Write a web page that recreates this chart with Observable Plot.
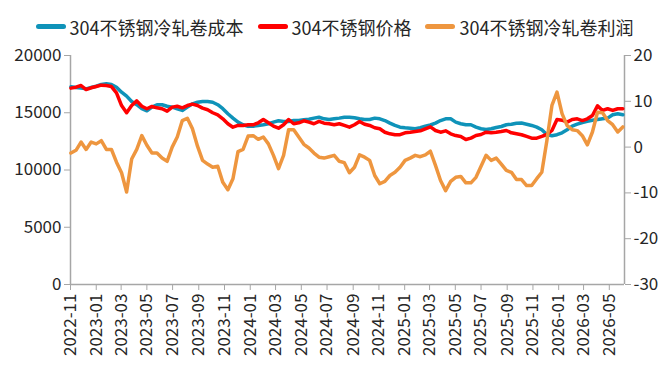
<!DOCTYPE html>
<html><head><meta charset="utf-8">
<script src="https://cdn.jsdelivr.net/npm/d3@7"></script>
<script src="https://cdn.jsdelivr.net/npm/@observablehq/plot@0.6"></script>
<style>
body{margin:0;background:#fff;font-family:"Noto Sans CJK SC","Noto Sans",sans-serif;}
#legend{width:669px;height:40px;display:flex;justify-content:center;align-items:center;padding-top:13px;box-sizing:border-box;font-size:18px;color:#262626;}
.item{display:flex;align-items:center;margin:0 7px;white-space:nowrap;}
.sw{width:30px;height:5px;border-radius:3px;margin-right:4px;}
#chart svg{overflow:visible;display:block;}
</style></head><body>
<div id="legend"></div>
<div id="chart"></div>
<script>
const seriesNames = ["304不锈钢冷轧卷成本","304不锈钢价格","304不锈钢冷轧卷利润"];
const seriesColors = ["#0F93B9","#FF0000","#EE963F"];
const leftTicks = [0,5000,10000,15000,20000];
const rightTicks = [-30,-20,-10,0,10,20];
const xTickLabels = ["2022-11","2023-01","2023-03","2023-05","2023-07","2023-09","2023-11","2024-01","2024-03","2024-05","2024-07","2024-09","2024-11","2025-01","2025-03","2025-05","2025-07","2025-09","2025-11","2026-01","2026-03","2026-05"];
const xDomain = ["2022-11-01","2026-06-06"];

const dates = [
"2022-11-02","2022-11-14","2022-11-26","2022-12-08","2022-12-20",
"2023-01-01","2023-01-13","2023-01-25","2023-02-06","2023-02-18",
"2023-03-02","2023-03-14","2023-03-26","2023-04-07","2023-04-19",
"2023-05-01","2023-05-13","2023-05-25","2023-06-06","2023-06-18",
"2023-06-30","2023-07-12","2023-07-24","2023-08-05","2023-08-17",
"2023-08-29","2023-09-10","2023-09-22","2023-10-04","2023-10-16",
"2023-10-28","2023-11-09","2023-11-21","2023-12-03","2023-12-15",
"2023-12-27","2024-01-08","2024-01-20","2024-02-01","2024-02-13",
"2024-02-25","2024-03-08","2024-03-20","2024-04-01","2024-04-13",
"2024-04-25","2024-05-07","2024-05-19","2024-05-31","2024-06-12",
"2024-06-24","2024-07-06","2024-07-18","2024-07-30","2024-08-11",
"2024-08-23","2024-09-04","2024-09-16","2024-09-28","2024-10-10",
"2024-10-22","2024-11-03","2024-11-15","2024-11-27","2024-12-09",
"2024-12-21","2025-01-02","2025-01-14","2025-01-26","2025-02-07",
"2025-02-19","2025-03-03","2025-03-15","2025-03-27","2025-04-08",
"2025-04-20","2025-05-02","2025-05-14","2025-05-26","2025-06-07",
"2025-06-19","2025-07-01","2025-07-13","2025-07-25","2025-08-06",
"2025-08-18","2025-08-30","2025-09-11","2025-09-23","2025-10-05",
"2025-10-17","2025-10-29","2025-11-10","2025-11-22","2025-12-04",
"2025-12-16","2025-12-28","2026-01-09","2026-01-21","2026-02-02",
"2026-02-14","2026-02-26","2026-03-10","2026-03-22","2026-04-03",
"2026-04-15","2026-04-27","2026-05-09","2026-05-21","2026-06-02"];

const cost = [
17270,17210,17150,17090,17210,
17320,17470,17530,17470,17230,
16800,16450,15980,15700,15350,
15170,15490,15700,15700,15570,
15490,15350,15200,15490,15780,
15920,15980,15980,15920,15700,
15350,14910,14530,14180,13950,
13810,13830,13890,13950,14040,
14180,14300,14240,14240,14320,
14320,14390,14440,14530,14610,
14470,14410,14470,14530,14610,
14610,14560,14470,14410,14410,
14530,14470,14320,14090,13890,
13740,13690,13650,13600,13690,
13830,13930,14090,14320,14470,
14470,14180,14040,13950,13950,
13740,13600,13540,13600,13710,
13800,13950,14000,14090,14100,
14000,13890,13740,13510,13100,
12990,13080,13250,13510,13830,
14000,14150,14260,14350,14410,
14470,14530,14820,14910,14820];

const price = [
17150,17230,17380,17030,17180,
17290,17410,17380,17290,16740,
15630,15000,15630,16040,15570,
15350,15550,15430,15350,15140,
15490,15570,15430,15630,15750,
15630,15400,15260,15000,14820,
14470,14040,13740,13890,13890,
13950,13950,14120,14410,14120,
13830,13650,13950,14410,14040,
14120,14300,14180,14040,14240,
14090,14040,13950,14040,13890,
13740,13950,14240,14000,13890,
13690,13600,13300,13160,13080,
13080,13250,13300,13360,13420,
13600,13770,13450,13300,13420,
13160,13010,12930,12660,12780,
13010,13100,13300,13250,13300,
13360,13450,13250,13160,13080,
12930,12780,12780,12930,13100,
13450,14410,14350,14180,14410,
14470,14320,14470,14760,15600,
15200,15350,15200,15350,15350];

const profit = [
-1.3,-0.7,1.1,-0.5,1.1,
0.7,1.4,-0.5,-0.5,-3.3,
-5.6,-9.8,-2.6,-0.5,2.5,
0.4,-1.3,-1.3,-2.4,-3.1,
0.0,2.2,5.8,6.3,4.0,
0.2,-2.9,-3.7,-4.4,-4.2,
-7.7,-9.3,-6.9,-1.0,-0.5,
2.4,2.5,1.7,2.2,0.7,
-1.8,-4.7,-1.8,3.8,3.8,
2.2,0.6,-0.2,-1.3,-2.2,
-2.4,-2.1,-1.8,-3.1,-3.4,
-5.6,-4.4,-1.7,-2.2,-2.9,
-6.2,-8.0,-7.5,-6.2,-5.5,
-4.4,-2.9,-2.4,-1.8,-2.1,
-1.7,-0.9,-4.0,-7.3,-9.5,
-7.5,-6.6,-6.4,-7.8,-7.8,
-6.6,-4.2,-1.8,-2.9,-2.4,
-3.7,-5.1,-5.5,-7.1,-7.1,
-8.4,-8.4,-6.9,-5.5,1.4,
9.1,12.0,7.3,4.7,3.8,
3.6,2.5,0.5,3.3,7.6,
7.5,5.8,4.9,3.3,4.4];

// legend
const legend = document.getElementById("legend");
seriesNames.forEach((n,i)=>{
  const it = document.createElement("div"); it.className="item";
  const sw = document.createElement("div"); sw.className="sw"; sw.style.background=seriesColors[i];
  const tx = document.createElement("span"); tx.textContent=n;
  it.appendChild(sw); it.appendChild(tx); legend.appendChild(it);
});

const pd = d3.utcParse("%Y-%m-%d");
const pm = d3.utcParse("%Y-%m");
const rows = dates.map((d,i)=>({date:pd(d), cost:cost[i], price:price[i], profit:profit[i]}));
// right axis (-30..20) shares the left y scale (0..20000)
const k = leftTicks[leftTicks.length-1] / (rightTicks[rightTicks.length-1] - rightTicks[0]);
const toLeft = p => (p - rightTicks[0]) * k;
const fromLeft = v => Math.round(v / k + rightTicks[0]);
const x0 = pd(xDomain[0]), x1 = pd(xDomain[1]);
const axisGray = "#A6A6A6", txt = "#262626";

const chart = Plot.plot({
  width: 669, height: 325,
  marginTop: 15, marginBottom: 81, marginLeft: 70, marginRight: 45,
  style: {fontFamily: '"Noto Sans CJK SC","Noto Sans",sans-serif', fontSize: "17px", background: "#fff", color: txt},
  x: {type: "utc", domain: [x0, x1]},
  y: {domain: [0, 20000]},
  marks: [
    Plot.ruleY([0], {stroke: axisGray, strokeWidth: 1.5}),
    Plot.ruleX([x0], {y1: 0, y2: 20000, stroke: axisGray, strokeWidth: 1.5}),
    Plot.ruleX([x1], {y1: 0, y2: 20000, stroke: axisGray, strokeWidth: 1.5}),
    Plot.axisY({ticks: leftTicks, tickFormat: d => String(d), tickSize: 6, tickPadding: 3, stroke: axisGray, fill: txt, label: null}),
    Plot.axisY({anchor: "right", ticks: rightTicks.map(toLeft), tickFormat: d => String(fromLeft(d)), tickSize: 6, tickPadding: 3, stroke: axisGray, fill: txt, label: null}),
    Plot.axisX({ticks: xTickLabels.map(pm), tickFormat: d3.utcFormat("%Y-%m"), tickRotate: -90, tickSize: 6, tickPadding: 3, stroke: axisGray, fill: txt, label: null}),
    Plot.line(rows, {x: "date", y: "cost", stroke: seriesColors[0], strokeWidth: 3.5, strokeLinejoin: "round"}),
    Plot.line(rows, {x: "date", y: "price", stroke: seriesColors[1], strokeWidth: 3.5, strokeLinejoin: "round"}),
    Plot.line(rows, {x: "date", y: d => toLeft(d.profit), stroke: seriesColors[2], strokeWidth: 3.5, strokeLinejoin: "round"})
  ]
});
document.getElementById("chart").appendChild(chart);
</script>
</body></html>
